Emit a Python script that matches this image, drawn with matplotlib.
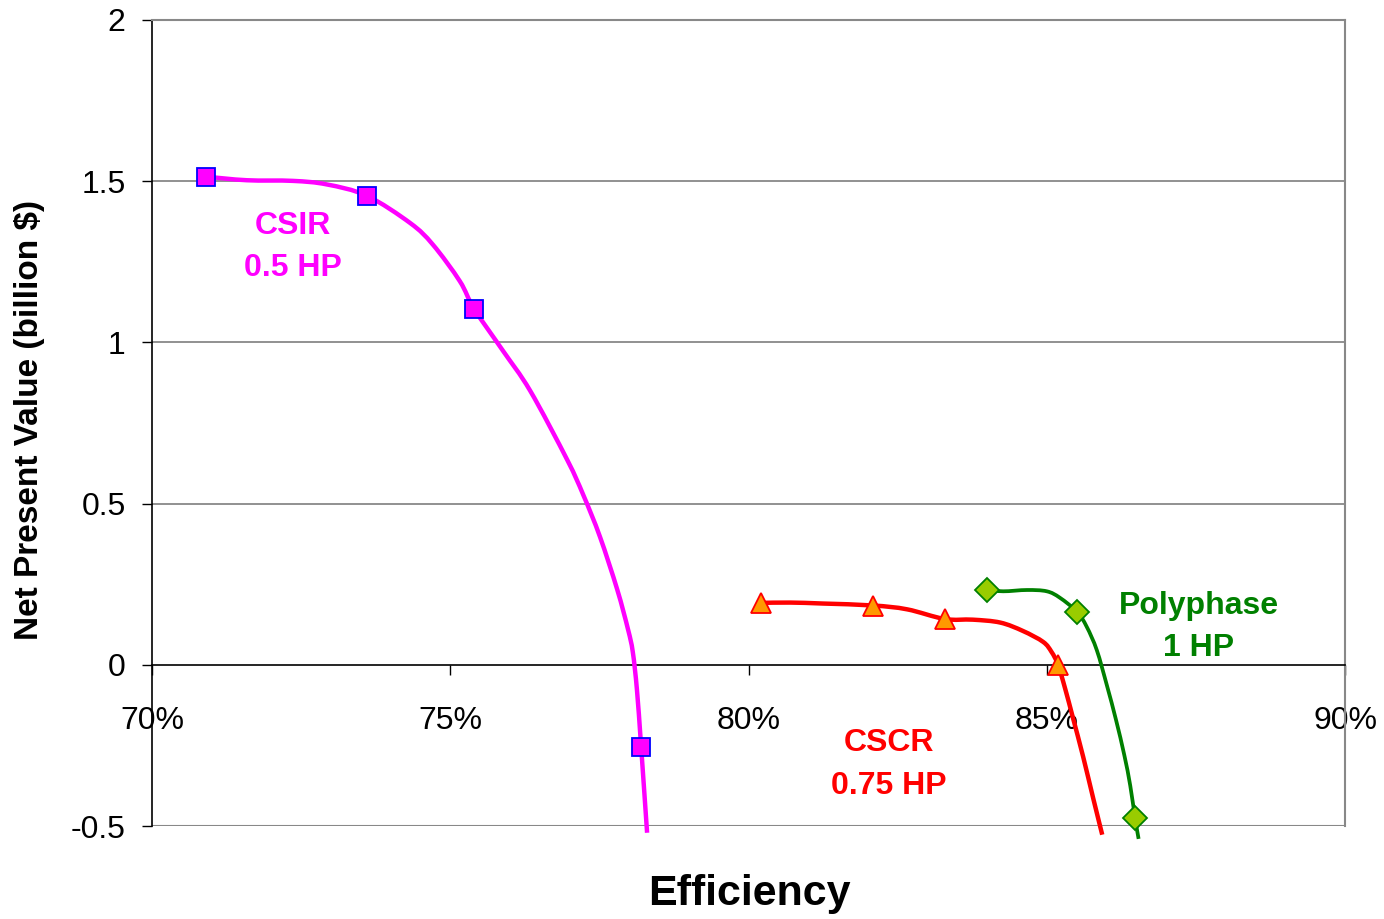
import matplotlib.pyplot as plt
from matplotlib.path import Path
from matplotlib.patches import PathPatch
from matplotlib.ticker import FuncFormatter

plt.rcParams['font.family'] = ['Liberation Sans', 'DejaVu Sans']

# CSIR 0.5 HP - fitted curve and data points (efficiency %, NPV billion $)
csir_curve_x = [70.905, 71.59, 72.36, 72.93, 73.60, 74.33, 74.71, 75.16, 75.40, 75.88,
                76.34, 76.96, 77.23, 77.51, 77.80, 77.98, 78.06, 78.13, 78.20, 78.30]
csir_curve_y = [1.514, 1.503, 1.501, 1.490, 1.455, 1.370, 1.303, 1.190, 1.104, 0.975,
                0.850, 0.636, 0.527, 0.397, 0.233, 0.110, 0.040, -0.078, -0.254, -0.521]
csir_pts_x = [70.905, 73.60, 75.40, 78.20]
csir_pts_y = [1.514, 1.455, 1.104, -0.254]

# CSCR 0.75 HP
cscr_curve_x = [80.21, 80.70, 81.25, 82.09, 82.66, 83.29, 83.76, 84.22, 84.60, 84.94,
                85.08, 85.19, 85.31, 85.44, 85.61, 85.78, 85.93]
cscr_curve_y = [0.192, 0.193, 0.190, 0.184, 0.172, 0.142, 0.140, 0.131, 0.105, 0.071,
                0.040, 0.000, -0.075, -0.165, -0.285, -0.415, -0.527]
cscr_pts_x = [80.21, 82.09, 83.29, 85.19]
cscr_pts_y = [0.192, 0.183, 0.143, 0.000]

# Polyphase 1 HP
poly_curve_x = [84.00, 84.27, 84.67, 85.00, 85.22, 85.51, 85.67, 85.84, 86.01, 86.16,
                86.30, 86.40, 86.48, 86.54]
poly_curve_y = [0.233, 0.228, 0.232, 0.228, 0.208, 0.164, 0.118, 0.045, -0.065, -0.170,
                -0.280, -0.375, -0.475, -0.540]
poly_pts_x = [84.00, 85.51, 86.48]
poly_pts_y = [0.233, 0.164, -0.475]

x_ticks = [70, 75, 80, 85, 90]
y_ticks = [-0.5, 0, 0.5, 1, 1.5, 2]


def smooth_path(xs, ys):
    # Excel-like smoothed line: Catmull-Rom segments drawn as cubic beziers
    pts = list(zip(xs, ys))
    verts = [pts[0]]
    codes = [Path.MOVETO]
    n = len(pts)
    for i in range(n - 1):
        p0 = pts[max(i - 1, 0)]
        p1 = pts[i]
        p2 = pts[i + 1]
        p3 = pts[min(i + 2, n - 1)]
        c1 = (p1[0] + (p2[0] - p0[0]) / 6, p1[1] + (p2[1] - p0[1]) / 6)
        c2 = (p2[0] - (p3[0] - p1[0]) / 6, p2[1] - (p3[1] - p1[1]) / 6)
        verts += [c1, c2, p2]
        codes += [Path.CURVE4] * 3
    return Path(verts, codes)


fig = plt.figure(figsize=(13.84, 9.19), dpi=100)
ax = fig.add_axes([152/1384, 1 - 826/919, (1345-152)/1384, (826-20)/919])

grey = '#888888'
for y in [0.5, 1, 1.5]:
    ax.axhline(y, color=grey, lw=1.3, zorder=1)
ax.axhline(-0.5, color=grey, lw=1.5, zorder=1)

# curves
for cx, cy, col, lw in [(csir_curve_x, csir_curve_y, '#FF00FF', 3.2),
                        (cscr_curve_x, cscr_curve_y, '#FF0000', 3.2),
                        (poly_curve_x, poly_curve_y, '#008000', 2.7)]:
    ax.add_patch(PathPatch(smooth_path(cx, cy), facecolor='none', edgecolor=col,
                           lw=lw, clip_on=False, zorder=3, capstyle='butt'))

# data points
ax.plot(csir_pts_x, csir_pts_y, 's', ms=13, mfc='#FF00FF', mec='#0000FF', mew=1.3,
        clip_on=False, zorder=4)
ax.plot(cscr_pts_x, cscr_pts_y, '^', ms=15, mfc='#FF9900', mec='#FF0000', mew=1.3,
        clip_on=False, zorder=4)
ax.plot(poly_pts_x, poly_pts_y, 'D', ms=12, mfc='#99CC00', mec='#008000', mew=1.3,
        clip_on=False, zorder=4)

ax.set_xlim(70, 90)
ax.set_ylim(-0.5, 2)
ax.set_xticks(x_ticks)
ax.set_yticks(y_ticks)
ax.xaxis.set_major_formatter(FuncFormatter(lambda v, p: f"{v:.0f}%"))
ax.yaxis.set_major_formatter(FuncFormatter(lambda v, p: f"{v:g}"))

ax.spines['bottom'].set_position(('data', 0))
ax.spines['bottom'].set_color('black')
ax.spines['bottom'].set_linewidth(1.2)
ax.spines['left'].set_color('black')
ax.spines['left'].set_linewidth(1.2)
ax.spines['top'].set_color(grey)
ax.spines['top'].set_linewidth(1.5)
ax.spines['right'].set_color(grey)
ax.spines['right'].set_linewidth(1.5)

ax.tick_params(axis='x', direction='out', length=7, width=1, pad=23, labelsize=23)
ax.tick_params(axis='y', direction='out', length=7, width=1, pad=12, labelsize=23)

fig.text(30/1384, 1 - 420/919, 'Net Present Value (billion $)', rotation=90,
         fontsize=24, fontweight='bold', ha='center', va='center')
fig.text(749/1384, 1 - 894/919, 'Efficiency', fontsize=31, fontweight='bold',
         ha='center', va='center')

# series labels
ax.text(72.36, 1.296, 'CSIR\n0.5 HP', color='#FF00FF', fontsize=23, fontweight='bold',
        ha='center', va='center', linespacing=1.55)
ax.text(82.35, -0.309, 'CSCR\n0.75 HP', color='#FF0000', fontsize=23, fontweight='bold',
        ha='center', va='center', linespacing=1.55)
ax.text(87.55, 0.117, 'Polyphase\n1 HP', color='#008000', fontsize=23, fontweight='bold',
        ha='center', va='center', linespacing=1.55)

fig.savefig('out.png', dpi=100)
